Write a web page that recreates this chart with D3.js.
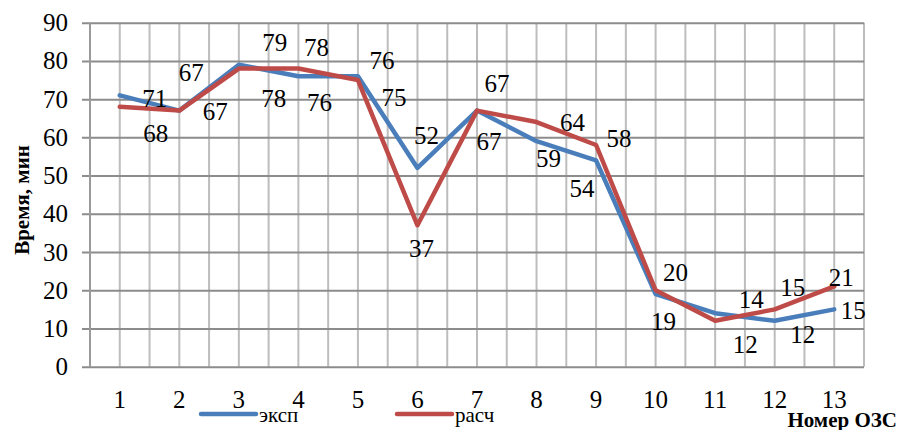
<!DOCTYPE html>
<html><head><meta charset="utf-8">
<script src="https://cdn.jsdelivr.net/npm/d3@7"></script>
<style>
body{margin:0;background:#fff;}
</style></head>
<body><svg id="c" width="900" height="430"></svg>
<script>
const categories = ["1","2","3","4","5","6","7","8","9","10","11","12","13"];
const expValues  = [71,67,79,76,76,52,67,59,54,19,14,12,15];
const calcValues = [68,67,78,78,75,37,67,64,58,20,12,15,21];
const yTicks = [0,10,20,30,40,50,60,70,80,90];
const seriesNames = ["эксп","расч"];
const yTitle = "Время, мин";
const xTitle = "Номер ОЗС";

// label offsets (layout only, px relative to the point)
const expLabelOffset  = [[35,3],[12,-38],[36,-22],[21,26],[24,-16],[9,-33],[12,31],[12,17],[-14,28],[8,27],[36,-14],[28,13],[19,1]];
const calcLabelOffset = [[36,26],[36,1],[35,30],[18,-21],[36,17],[4,23],[20,-27],[36,0],[23,-7],[20,-18],[30,23],[18,-22],[7,-9]];

const FONT = "'Liberation Serif', 'Times New Roman', Times, serif";
const svg = d3.select("#c");
const L = 90, R = 864, T = 22.7, B = 366.7;
const x = d3.scaleBand().domain(categories).range([L, R]);
const y = d3.scaleLinear().domain([0, 90]).range([B, T]);
const cx = c => x(c) + x.bandwidth()/2;

// vertical grid (every half category)
const vlines = d3.range(0, categories.length*2 + 1).map(i => L + i * x.bandwidth()/2);
svg.append("g").selectAll("line").data(vlines).join("line")
  .attr("x1", d => d).attr("x2", d => d).attr("y1", T).attr("y2", B)
  .attr("stroke", "#bdbdbd").attr("stroke-width", 2);

// horizontal grid + y axis
const yAxis = d3.axisLeft(y).tickValues(yTicks).tickSize(-(R - L)).tickPadding(22).tickFormat(d3.format("d"));
const gy = svg.append("g").attr("transform", `translate(${L},0)`).call(yAxis);
gy.attr("font-family", null).attr("font-size", null);
gy.select(".domain").remove();
gy.selectAll(".tick line").attr("stroke", "#8c8c8c").attr("stroke-width", 2).attr("x1", -8);
gy.selectAll(".tick text").attr("font-size", 25).attr("fill", "#000");

// x axis labels
const xAxis = d3.axisBottom(x).tickSize(0).tickPadding(24);
const gx = svg.append("g").attr("transform", `translate(0,${B})`).call(xAxis);
gx.attr("font-family", null).attr("font-size", null);
gx.select(".domain").remove();
gx.selectAll(".tick text").attr("font-size", 25).attr("fill", "#000");

// left axis line
svg.append("line").attr("x1", L).attr("x2", L).attr("y1", T).attr("y2", B)
  .attr("stroke", "#9a9a9a").attr("stroke-width", 2);

// lines
const line = d3.line().x((d, i) => cx(categories[i])).y(d => y(d));
const colors = ["#4a7ebb", "#be4b48"];
[expValues, calcValues].forEach((vals, k) => {
  svg.append("path").datum(vals).attr("d", line)
    .attr("fill", "none").attr("stroke", colors[k]).attr("stroke-width", 4.5)
    .attr("stroke-linejoin", "round").attr("stroke-linecap", "round");
});

// data labels
[[expValues, expLabelOffset], [calcValues, calcLabelOffset]].forEach(([vals, offs]) => {
  svg.append("g").selectAll("text").data(vals).join("text")
    .attr("x", (d, i) => cx(categories[i]) + offs[i][0])
    .attr("y", (d, i) => y(d) + offs[i][1])
    .attr("dy", "0.35em").attr("text-anchor", "middle")
    .attr("font-size", 25).attr("fill", "#000").text(d => d);
});

// y title
svg.append("text").attr("transform", "translate(29,200) rotate(-90)")
  .attr("text-anchor", "middle").attr("font-weight", "bold").attr("font-size", 21)
  .text(yTitle);

// x title
svg.append("text").attr("x", 897).attr("y", 427).attr("text-anchor", "end")
  .attr("font-weight", "bold").attr("font-size", 21).text(xTitle);

// legend
const legX = [201, 397];
seriesNames.forEach((n, k) => {
  svg.append("line").attr("x1", legX[k]).attr("x2", legX[k] + 55).attr("y1", 414).attr("y2", 414)
    .attr("stroke", colors[k]).attr("stroke-width", 4.5).attr("stroke-linecap", "round");
  svg.append("text").attr("x", legX[k] + 58).attr("y", 422).attr("font-size", 21).text(n);
});

svg.selectAll("text").style("font-family", FONT);
</script></body></html>
